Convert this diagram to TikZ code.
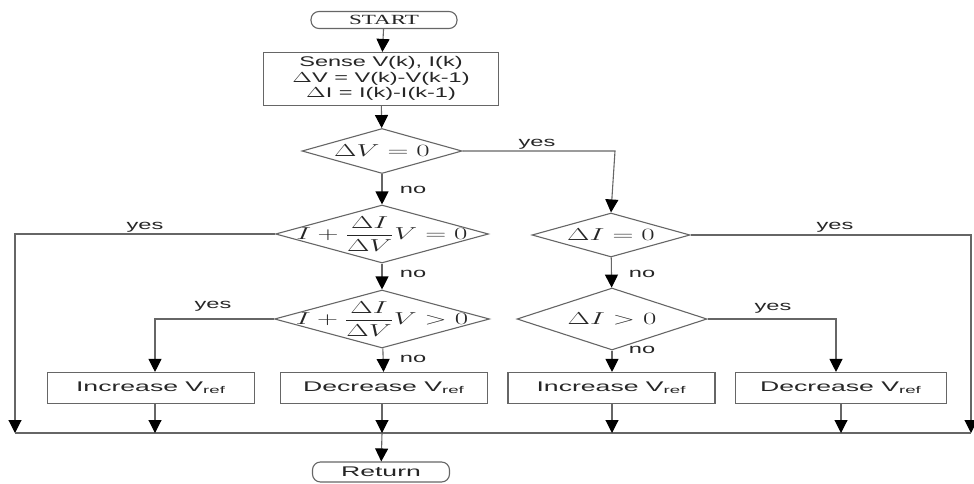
\documentclass[tikz,border=0pt]{standalone}
\usepackage{amsmath}
\usepackage{fontspec}
\usepackage{graphicx}
\setmainfont{Liberation Sans}
\newfontfamily\serifface{Liberation Serif}
\usetikzlibrary{arrows.meta,shapes.geometric}
\definecolor{linec}{HTML}{666666}
\definecolor{txtc}{HTML}{262626}
\newcommand{\hs}[2]{\scalebox{#1}[1]{#2}}
\newcommand{\wm}[1]{\scalebox{1.68}[1]{$#1$}}
\tikzset{
  base/.style={draw=linec, line width=1.1pt, fill=white, inner sep=0pt},
  term/.style={base, rounded corners=8pt, minimum width=146pt, minimum height=17pt,
    font=\serifface\fontsize{14}{16}\selectfont, text=txtc},
  procbox/.style={base, minimum width=207pt, minimum height=31pt,
    font=\fontsize{14}{16}\selectfont, text=txtc},
  decis/.style={base, diamond, aspect=3},
  mtext/.style={inner sep=0pt, font=\fontsize{17.28}{20}\selectfont, text=txtc},
  lab/.style={inner sep=0pt, font=\fontsize{13.5}{15}\selectfont, text=txtc},
  conn/.style={draw=linec, line width=1.1pt},
  arr/.style={conn, -{Triangle[length=13pt,width=13pt,color=black]}},
}
\begin{document}
\begin{tikzpicture}[x=1pt,y=-1pt]
\useasboundingbox (0,0) rectangle (974,484);
% terminals
\node[term] (start) at (384,20) {\hs{1.65}{START}};
\node[base, minimum width=235pt, minimum height=53pt,
  font=\fontsize{14}{15.5}\selectfont, text=txtc] (sense) at (381,79)
  {\hs{1.68}{\begin{tabular}{@{}c@{}}Sense V(k), I(k)\\ $\Delta$V = V(k)-V(k-1)\\ $\Delta$I = I(k)-I(k-1)\end{tabular}}};
% decisions
\node[decis, minimum width=160pt, minimum height=45pt] (d1) at (382,151) {};
\node[mtext] at (d1) {\wm{\Delta V = 0}};
\node[decis, minimum width=213pt, minimum height=58pt] (d2) at (382,234) {};
\node[mtext] at (d2) {\wm{I+\dfrac{\Delta I}{\Delta V}V=0}};
\node[decis, minimum width=215pt, minimum height=58pt] (d3) at (382,319) {};
\node[mtext] at (d3) {\wm{I+\dfrac{\Delta I}{\Delta V}V>0}};
\node[decis, minimum width=158pt, minimum height=44pt] (d4) at (611,235) {};
\node[mtext] at (d4) {\wm{\Delta I = 0}};
\node[decis, minimum width=190pt, minimum height=62pt] (d5) at (612,319) {};
\node[mtext] at (d5) {\wm{\Delta I > 0}};
% boxes
\node[procbox] (inc1) at (151,388) {\hs{1.9}{Increase V\textsubscript{ref}}};
\node[procbox] (dec1) at (384,388) {\hs{1.9}{Decrease V\textsubscript{ref}}};
\node[procbox] (inc2) at (611.5,388) {\hs{1.9}{Increase V\textsubscript{ref}}};
\node[procbox, minimum width=211pt] (dec2) at (841,388) {\hs{1.9}{Decrease V\textsubscript{ref}}};
\node[term, font=\fontsize{14}{16}\selectfont, minimum width=137pt, minimum height=20pt] (ret) at (381,472) {\hs{1.9}{Return}};
% bus coordinates
\coordinate (bl) at (15,433);
\coordinate (br) at (971,433);
\coordinate (b1) at (155,433);
\coordinate (b2) at (382,433);
\coordinate (b3) at (612,433);
\coordinate (b4) at (841,433);
\coordinate (cl) at (15,234);
\coordinate (cr) at (971,235);
\coordinate (c1) at (615,151);
\coordinate (c3) at (155,319);
\coordinate (c5) at (836,319);
% connectors
\draw[arr] (start) -- (sense);
\draw[arr] (sense) -- (d1);
\draw[arr] (d1) -- (d2);
\draw[arr] (d2) -- (d3);
\draw[arr] (d3) -- (dec1);
\draw[arr] (d1.east) -- (c1) -- (d4.north);
\draw[arr] (d4) -- (d5);
\draw[arr] (d5.south) -- (inc2.north -| d5.south);
\draw[arr] (d3.west) -- (c3) -- (c3 |- inc1.north);
\draw[arr] (d5.east) -- (c5) -- (c5 |- dec2.north);
\draw[arr] (d2.west) -- (cl) -- (bl);
\draw[arr] (d4.east) -- (cr) -- (br);
\draw[conn] (bl) -- (br);
\draw[arr] (b1 |- inc1.south) -- (b1);
\draw[arr] (b2 |- dec1.south) -- (b2);
\draw[arr] (b3 |- inc2.south) -- (b3);
\draw[arr] (b4 |- dec2.south) -- (b4);
\draw[arr] (b2) -- (ret);
% labels
\node[lab] at (537,144) {\hs{1.75}{yes}};
\node[lab] at (145,227) {\hs{1.75}{yes}};
\node[lab] at (835,227) {\hs{1.75}{yes}};
\node[lab] at (213,306) {\hs{1.75}{yes}};
\node[lab] at (773,308) {\hs{1.75}{yes}};
\node[lab] at (413,190) {\hs{1.75}{no}};
\node[lab] at (413,274) {\hs{1.75}{no}};
\node[lab] at (413,359) {\hs{1.75}{no}};
\node[lab] at (642,274) {\hs{1.75}{no}};
\node[lab] at (642,350) {\hs{1.75}{no}};
\end{tikzpicture}
\end{document}
